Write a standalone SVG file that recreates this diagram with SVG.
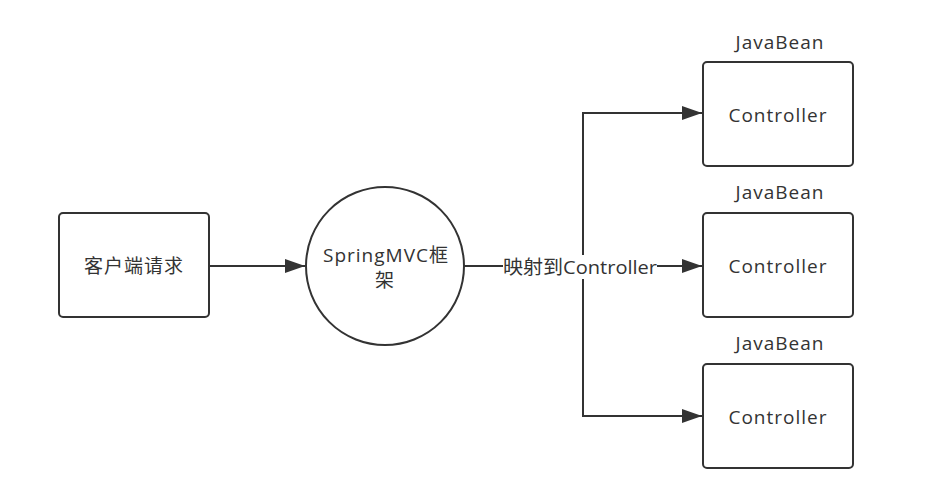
<svg xmlns="http://www.w3.org/2000/svg" width="942" height="489" viewBox="0 0 942 489">
<defs>
<style>
.box{fill:#fff;stroke:#333;stroke-width:2}
.ln{fill:none;stroke:#333;stroke-width:2}
.t{font-family:"Open Sans","Noto Sans CJK SC",sans-serif;font-size:19px;fill:#333;text-anchor:middle;letter-spacing:1px}
</style>
<marker id="ah" markerWidth="20" markerHeight="14" viewBox="0 0 20 14" refX="20" refY="7" orient="auto" markerUnits="userSpaceOnUse">
<path d="M0,0 L20,7 L0,14 Z" fill="#333"/>
</marker>
</defs>
<rect width="942" height="489" fill="#fff"/>
<g id="connectors">
<path class="ln" d="M210,266 H305" marker-end="url(#ah)"/>
<path class="ln" d="M464,266 H702" marker-end="url(#ah)"/>
<path class="ln" d="M583,266 V113 H702" marker-end="url(#ah)"/>
<path class="ln" d="M583,266 V416 H702" marker-end="url(#ah)"/>
<rect x="503" y="255" width="154" height="24" fill="#fff"/>
<text class="t" x="580" y="274" textLength="154" lengthAdjust="spacingAndGlyphs" style="letter-spacing:0">映射到Controller</text>
</g>
<g id="client">
<rect class="box" x="59" y="213" width="150" height="104" rx="4"/>
<text class="t" x="134" y="273">客户端请求</text>
</g>
<g id="springmvc">
<circle class="box" cx="385" cy="266" r="79"/>
<text class="t" x="386" y="262">SpringMVC框</text>
<text class="t" x="385" y="287">架</text>
</g>
<g id="controller1">
<text class="t" x="780" y="49">JavaBean</text>
<rect class="box" x="703" y="62" width="150" height="104" rx="4"/>
<text class="t" x="778" y="122">Controller</text>
</g>
<g id="controller2">
<text class="t" x="780" y="199">JavaBean</text>
<rect class="box" x="703" y="213" width="150" height="104" rx="4"/>
<text class="t" x="778" y="273">Controller</text>
</g>
<g id="controller3">
<text class="t" x="780" y="350">JavaBean</text>
<rect class="box" x="703" y="364" width="150" height="104" rx="4"/>
<text class="t" x="778" y="424">Controller</text>
</g>
</svg>
